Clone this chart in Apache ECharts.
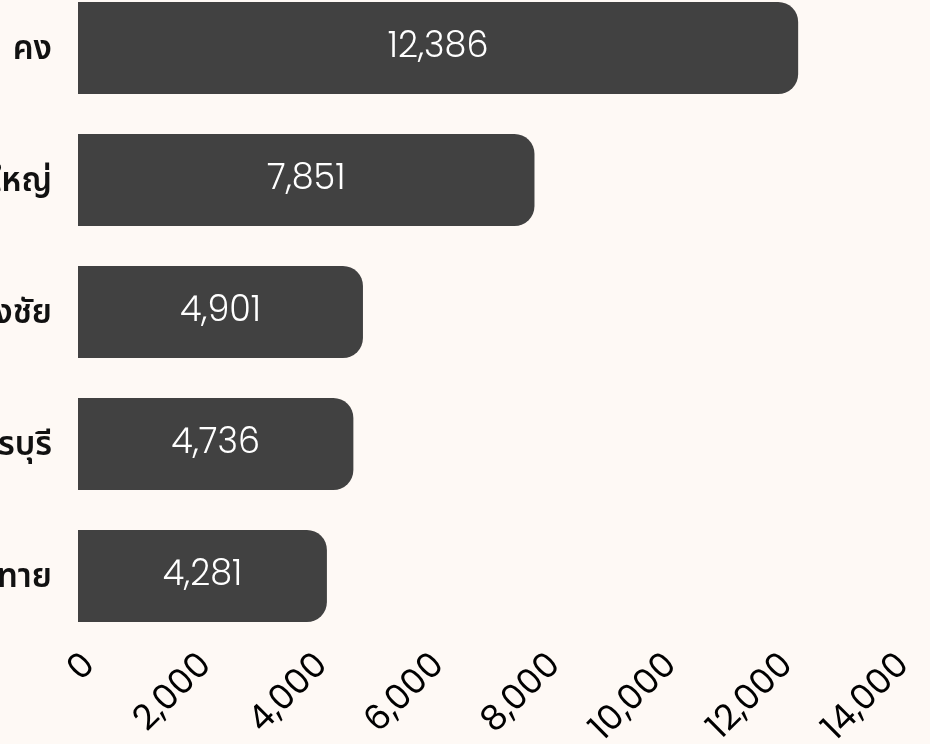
<!DOCTYPE html>
<html>
<head>
<meta charset="utf-8">
<script src="https://cdn.jsdelivr.net/npm/echarts@6/dist/echarts.min.js"></script>
<style>
html,body{margin:0;padding:0;background:#fef9f5;}
#chart{width:930px;height:744px;}
</style>
</head>
<body>
<div id="chart"></div>
<script>
const categories = ['คง', 'บัวใหญ่', 'ปักธงชัย', 'ครบุรี', 'ประทาย'];
const values = [12386, 7851, 4901, 4736, 4281];
const xTicks = { min: 0, max: 14000, interval: 2000 };

const numFont = 'Poppins, Lato, "Noto Sans", sans-serif';
const chart = echarts.init(document.getElementById('chart'));
chart.setOption({
  backgroundColor: '#fef9f5',
  animation: false,
  grid: { left: 78, right: 38, top: -18, bottom: 102, containLabel: false, outerBoundsMode: 'none' },
  xAxis: {
    type: 'value',
    min: xTicks.min, max: xTicks.max, interval: xTicks.interval,
    axisLine: { show: false },
    axisTick: { show: false },
    splitLine: { show: false },
    axisLabel: {
      rotate: 45,
      color: '#000',
      fontSize: 35,
      fontWeight: 400,
      fontFamily: numFont,
      margin: 6,
      verticalAlign: 'top',
      formatter: v => v.toLocaleString('en-US')
    }
  },
  yAxis: {
    type: 'category',
    data: categories,
    inverse: true,
    axisLine: { show: false },
    axisTick: { show: false },
    splitLine: { show: false },
    axisLabel: {
      color: '#111',
      fontSize: 33,
      fontWeight: 600,
      fontFamily: '"Noto Sans Thai", "Noto Sans", sans-serif',
      margin: 26,
      formatter: v => '{t|' + v + '}',
      rich: {
        t: {
          color: '#111',
          fontSize: 33,
          fontWeight: 600,
          fontFamily: '"Noto Sans Thai", "Noto Sans", sans-serif',
          padding: [8, 0, 0, 0]
        }
      }
    }
  },
  series: [{
    type: 'bar',
    data: values,
    barWidth: 92,
    itemStyle: { color: '#414141', borderRadius: [0, 20, 20, 0] },
    label: {
      show: true,
      position: 'inside',
      color: '#ffffff',
      fontSize: 35,
      fontWeight: 300,
      fontFamily: numFont,
      formatter: p => p.value.toLocaleString('en-US')
    }
  }]
});
</script>
</body>
</html>
